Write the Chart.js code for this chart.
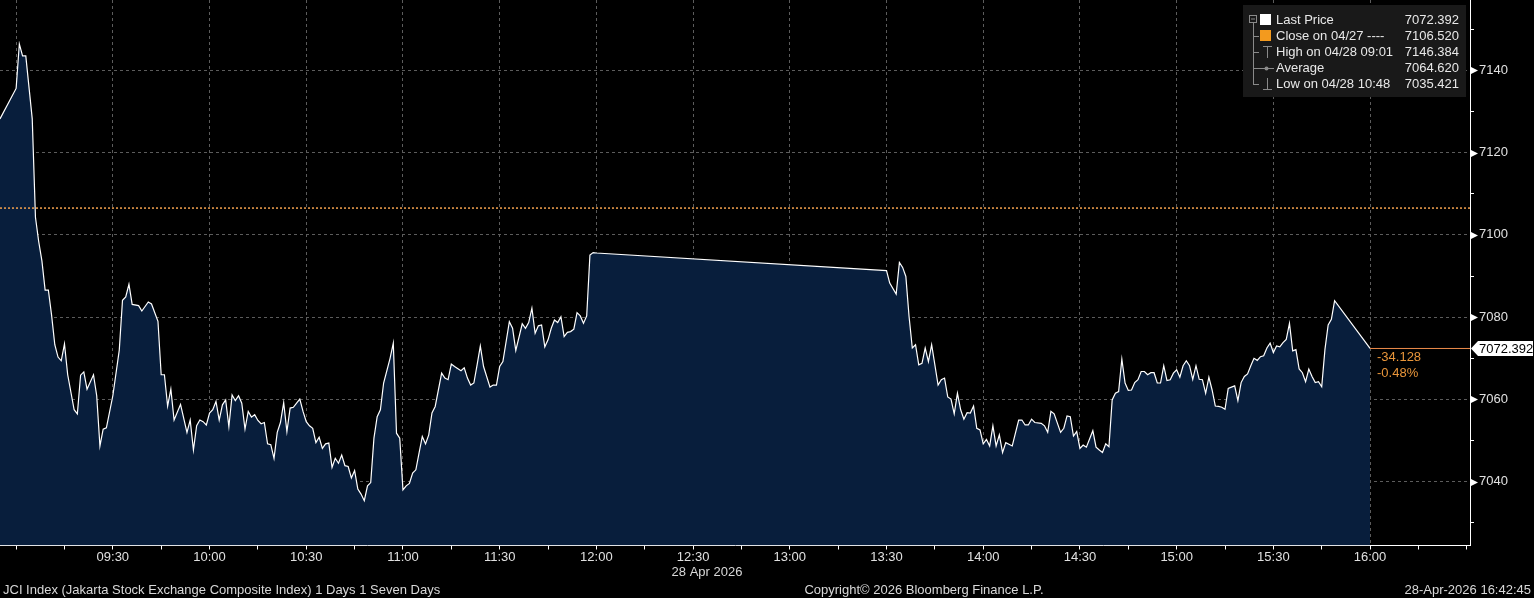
<!DOCTYPE html>
<html>
<head>
<meta charset="utf-8">
<script src="https://cdn.jsdelivr.net/npm/chart.js@4.4.1/dist/chart.umd.min.js"></script>
<style>
html,body{margin:0;padding:0;background:#000;overflow:hidden}
canvas{display:block}
</style>
</head>
<body>
<canvas id="chart" width="1534" height="598"></canvas>
<script>
// JCI intraday, 28 Apr 2026 - minute stamps and prices
const morningTimes = [
  '08:55','09:00','09:01','09:02','09:03','09:05','09:06','09:07','09:08','09:09',
  '09:10','09:11','09:12','09:13','09:14','09:15','09:16','09:18','09:19','09:20',
  '09:21','09:22','09:24','09:25','09:26','09:27','09:28','09:30','09:32','09:33',
  '09:34','09:35','09:36','09:38','09:39','09:41','09:42','09:44','09:45','09:46',
  '09:47','09:48','09:49','09:51','09:53','09:54','09:55','09:56','09:57','09:58',
  '09:59','10:00','10:01','10:02','10:03','10:04','10:05','10:06','10:07','10:08',
  '10:09','10:10','10:11','10:12','10:13','10:14','10:15','10:16','10:17','10:18',
  '10:19','10:20','10:21','10:22','10:23','10:24','10:25','10:26','10:27','10:28',
  '10:29','10:30','10:31','10:32','10:33','10:34','10:35','10:36','10:37','10:38',
  '10:39','10:40','10:41','10:42','10:43','10:44','10:45','10:46','10:47','10:48',
  '10:49','10:50','10:51','10:52','10:53','10:54','10:56','10:57','10:58','10:59',
  '11:00','11:01','11:02','11:03','11:04','11:05','11:06','11:07','11:08','11:09','11:10','11:12',
  '11:13','11:14','11:15','11:16','11:18','11:19','11:20','11:21','11:22','11:23',
  '11:24','11:25','11:27','11:28','11:29','11:30','11:31','11:33','11:34','11:35',
  '11:37','11:38','11:39','11:40','11:41','11:42','11:43','11:44','11:45','11:46',
  '11:47','11:48','11:49','11:50','11:51','11:52','11:53','11:54','11:55','11:56',
  '11:57','11:58','11:59','12:00'
]
const morningPrices = [
  7128.2,7135.6,7146.4,7143.5,7143.5,7128.2,7104.3,7098.4,7093.7,7086.6,
  7086.6,7080.5,7073.3,7070.3,7069.4,7073.5,7066.0,7057.5,7056.5,7065.9,
  7066.7,7062.5,7066.0,7060.9,7048.7,7052.8,7053.1,7060.9,7072.0,7084.1,
  7084.9,7088.0,7083.1,7082.8,7081.5,7083.7,7083.2,7079.0,7066.0,7066.0,
  7058.4,7062.5,7055.0,7058.8,7052.0,7055.0,7047.7,7053.6,7055.0,7054.6,
  7053.8,7056.7,7057.5,7059.5,7055.0,7058.7,7059.9,7053.4,7061.1,7059.7,
  7060.9,7059.1,7052.8,7057.1,7055.7,7056.3,7054.9,7054.1,7054.4,7049.2,
  7049.0,7045.7,7052.0,7054.4,7059.2,7052.2,7057.9,7058.1,7059.1,7060.1,
  7057.1,7054.6,7053.6,7053.0,7049.5,7050.8,7048.1,7049.2,7049.4,7043.5,
  7045.7,7044.5,7046.5,7043.9,7043.7,7040.9,7042.7,7038.2,7037.0,7035.4,
  7039.0,7039.8,7050.6,7055.8,7057.5,7064.0,7070.0,7073.7,7051.8,7050.6,
  7038.0,7039.0,7039.6,7042.1,7042.9,7047.0,7051.0,7049.2,7051.4,7056.7,7058.3,7066.4,
  7065.2,7064.8,7068.6,7068.0,7067.0,7067.7,7065.2,7063.5,7064.0,7068.4,
  7073.0,7068.0,7063.0,7063.5,7063.5,7068.0,7069.2,7078.9,7077.3,7071.9,
  7078.4,7077.3,7078.7,7082.2,7076.1,7077.9,7078.1,7072.8,7074.5,7077.3,
  7079.3,7078.7,7080.1,7075.3,7076.3,7076.5,7077.1,7081.1,7080.3,7078.5,
  7080.3,7095.1,7095.7,7095.6
]
const afternoonTimes = [
  '13:30','13:31','13:33','13:34','13:35','13:36','13:37','13:38','13:39','13:40',
  '13:41','13:42','13:43','13:44','13:46','13:47','13:48','13:49','13:50','13:51',
  '13:52','13:53','13:54','13:55','13:56','13:57','13:58','13:59','14:00','14:01',
  '14:02','14:03','14:04','14:05','14:06','14:07','14:09','14:11','14:12','14:13',
  '14:14','14:15','14:16','14:18','14:19','14:20','14:21','14:22','14:24','14:25',
  '14:26','14:27','14:28','14:29','14:30','14:31','14:32','14:34','14:35','14:36',
  '14:37','14:38','14:39','14:40','14:41','14:42','14:43','14:44','14:45','14:46',
  '14:47','14:48','14:49','14:50','14:51','14:52','14:53','14:54','14:55','14:56','14:57',
  '14:58','14:59','15:00','15:01','15:02','15:03','15:04','15:05','15:06','15:07',
  '15:08','15:09','15:10','15:11','15:12','15:13','15:14','15:15','15:16','15:17',
  '15:18','15:19','15:20','15:21','15:22','15:23','15:24','15:25','15:26','15:27',
  '15:28','15:29','15:30','15:31','15:32','15:33','15:34','15:35','15:36','15:37',
  '15:38','15:39','15:40','15:41','15:42','15:43','15:44','15:45','15:46','15:47',
  '15:48','15:49','16:00'
]
const afternoonPrices = [
  7091.3,7088.3,7085.6,7093.3,7092.1,7089.9,7080.1,7072.5,7073.3,7068.4,
  7068.8,7072.5,7069.2,7073.3,7063.5,7064.8,7065.2,7060.6,7060.1,7056.5,
  7061.5,7057.5,7055.2,7056.8,7056.7,7058.4,7053.0,7052.6,7049.2,7050.3,
  7048.7,7053.6,7048.7,7051.4,7047.1,7049.5,7048.7,7055.0,7055.0,7053.8,
  7053.8,7055.2,7054.4,7054.2,7053.6,7052.0,7057.1,7056.5,7052.0,7053.0,
  7056.0,7055.8,7051.1,7052.2,7048.1,7048.9,7048.4,7052.4,7048.4,7047.7,
  7047.1,7049.2,7048.5,7059.9,7061.5,7061.9,7069.8,7064.0,7062.2,7062.3,
  7064.1,7064.8,7066.8,7066.8,7066.0,7066.5,7066.5,7064.0,7064.0,7068.2,7064.6,
  7064.8,7066.4,7067.2,7065.4,7068.2,7069.4,7068.2,7064.9,7068.2,7064.9,
  7064.8,7061.5,7065.4,7062.3,7058.4,7058.3,7058.1,7057.6,7062.7,7063.0,
  7063.3,7059.7,7064.1,7065.6,7066.2,7068.2,7070.0,7069.5,7070.4,7070.6,
  7072.5,7073.7,7071.4,7073.0,7072.8,7073.8,7074.6,7078.5,7071.8,7072.1,
  7067.4,7066.5,7064.3,7067.4,7065.6,7064.1,7064.3,7063.1,7072.1,7078.1,
  7079.5,7084.0,7072.392
]

const prevClose = 7106.520
const highPrice = 7146.384
const avgPrice = 7064.620
const lowPrice = 7035.421
const lastPrice = afternoonPrices[afternoonPrices.length - 1]

// axis ticks
const xTickTimes = ['09:00','09:15','09:30','09:45','10:00','10:15','10:30','10:45','11:00','11:15',
  '11:30','11:45','12:00','12:15','12:30','12:45','13:00','13:15','13:30','13:45','14:00','14:15',
  '14:30','14:45','15:00','15:15','15:30','15:45','16:00','16:15','16:30']
const xLabelTimes = ['09:30','10:00','10:30','11:00','11:30','12:00','12:30','13:00','13:30','14:00',
  '14:30','15:00','15:30','16:00']
const yTicks = [7030,7040,7050,7060,7070,7080,7090,7100,7110,7120,7130,7140,7150]
const yLabels = [7040,7060,7080,7100,7120,7140]

const xMin = -5, xMax = 451      // minutes from 09:00
const yMin = 7024.5, yMax = 7157.1

const FONT = '"Liberation Sans", Arial, sans-serif'
const GRID = '#5c5c5c'

function toMin(t){
  const [h, m] = t.split(':').map(Number)
  return h * 60 + m - 540
}
function fmt(v){
  const t = v + 540
  return String(Math.floor(t / 60)).padStart(2, '0') + ':' + String(t % 60).padStart(2, '0')
}

const priceData = morningTimes.map((t, i) => ({x: toMin(t), y: morningPrices[i]}))
  .concat(afternoonTimes.map((t, i) => ({x: toMin(t), y: afternoonPrices[i]})))
const lastX = toMin(afternoonTimes[afternoonTimes.length - 1])

//quita el relleno que chart.js deja para las etiquetas
function noPad(s){
  s.paddingTop = 0
  s.paddingBottom = 0
  s.paddingLeft = 0
  s.paddingRight = 0
}

//dibuja leyenda, etiquetas y pie
const decor = {
  id: 'decor',
  afterDraw(chart){
    const ctx = chart.ctx
    const ys = chart.scales.y
    const ar = chart.chartArea.right
    ctx.save()
    ctx.font = '13px ' + FONT
    ctx.textBaseline = 'middle'

    // flechitas del eje derecho
    ctx.fillStyle = '#ffffff'
    yLabels.forEach(v => {
      const py = Math.round(ys.getPixelForValue(v)) + 0.5
      ctx.beginPath()
      ctx.moveTo(ar + 1, py - 3.5)
      ctx.lineTo(ar + 8, py)
      ctx.lineTo(ar + 1, py + 3.5)
      ctx.closePath()
      ctx.fill()
    })

    // etiqueta del ultimo precio
    const ly = ys.getPixelForValue(lastPrice)
    ctx.beginPath()
    ctx.moveTo(ar + 1, ly)
    ctx.lineTo(ar + 8, ly - 7.5)
    ctx.lineTo(1533, ly - 7.5)
    ctx.lineTo(1533, ly + 7.5)
    ctx.lineTo(ar + 8, ly + 7.5)
    ctx.closePath()
    ctx.fill()
    ctx.fillStyle = '#000000'
    ctx.textAlign = 'left'
    ctx.fillText(lastPrice.toFixed(3), ar + 9, ly + 0.5)

    // cambio vs cierre
    const chg = lastPrice - prevClose
    ctx.fillStyle = '#e8953a'
    ctx.fillText(chg.toFixed(3), 1377, ly + 9)
    ctx.fillText((chg / prevClose * 100).toFixed(2) + '%', 1377, ly + 25)

    // leyenda
    ctx.fillStyle = '#191919'
    ctx.fillRect(1243, 5, 223, 92)
    const rows = [20, 36, 52, 68, 84]
    ctx.strokeStyle = '#8a8a8a'
    ctx.lineWidth = 1
    ctx.strokeRect(1249.5, 15.5, 7, 7)
    ctx.beginPath()
    ctx.moveTo(1251, 19); ctx.lineTo(1255, 19)
    ctx.moveTo(1253.5, 23); ctx.lineTo(1253.5, rows[4])
    rows.slice(1).forEach(r => { ctx.moveTo(1253, r + 0.5); ctx.lineTo(1259, r + 0.5) })
    // high icon
    ctx.moveTo(1263, 46.5); ctx.lineTo(1272, 46.5)
    ctx.moveTo(1267.5, 46); ctx.lineTo(1267.5, 58)
    // average icon
    ctx.moveTo(1259, 68.5); ctx.lineTo(1274, 68.5)
    // low icon
    ctx.moveTo(1267.5, 78); ctx.lineTo(1267.5, 90)
    ctx.moveTo(1263, 89.5); ctx.lineTo(1272, 89.5)
    ctx.stroke()
    ctx.fillStyle = '#8a8a8a'
    ctx.beginPath(); ctx.arc(1266.5, 68.5, 2, 0, Math.PI * 2); ctx.fill()
    ctx.fillStyle = '#ffffff'
    ctx.fillRect(1260, 14, 11, 11)
    ctx.fillStyle = '#f39a1e'
    ctx.fillRect(1260, 30, 11, 11)

    const names = ['Last Price', 'Close on 04/27 ----', 'High on 04/28 09:01', 'Average', 'Low on 04/28 10:48']
    const vals = [lastPrice, prevClose, highPrice, avgPrice, lowPrice]
    ctx.fillStyle = '#e8e8e8'
    names.forEach((n, i) => {
      ctx.textAlign = 'left'
      ctx.fillText(n, 1276, rows[i])
      ctx.textAlign = 'right'
      ctx.fillText(vals[i].toFixed(3), 1459, rows[i])
    })

    // pie de pagina
    ctx.fillStyle = '#d8d8d8'
    ctx.textAlign = 'center'
    ctx.fillText('28 Apr 2026', 707, 572)
    ctx.fillText('Copyright\u00a9 2026 Bloomberg Finance L.P.', 924, 590)
    ctx.textAlign = 'left'
    ctx.fillText('JCI Index (Jakarta Stock Exchange Composite Index) 1 Days 1 Seven Days', 3, 590)
    ctx.textAlign = 'right'
    ctx.fillText('28-Apr-2026 16:42:45', 1531, 590)
    ctx.restore()
  }
}

const chart = new Chart(document.getElementById('chart').getContext('2d'), {
  type: 'line',
  data: {
    datasets: [
      {
        label: 'Last Price',
        data: priceData,
        borderColor: '#ffffff',
        borderWidth: 1.2,
        backgroundColor: '#081e3c',
        fill: 'start',
        pointRadius: 0,
        tension: 0,
        order: 2
      },
      {
        label: 'Close',
        data: [{x: xMin, y: prevClose}, {x: xMax, y: prevClose}],
        borderColor: '#f2a04e',
        borderWidth: 1.5,
        borderDash: [2, 2],
        pointRadius: 0,
        fill: false,
        order: 1
      },
      {
        label: 'Last',
        data: [{x: lastX, y: lastPrice}, {x: xMax, y: lastPrice}],
        borderColor: '#ec8b4b',
        borderWidth: 1,
        pointRadius: 0,
        fill: false,
        order: 1
      }
    ]
  },
  options: {
    responsive: false,
    animation: false,
    layout: {padding: 0},
    plugins: {legend: {display: false}, tooltip: {enabled: false}},
    scales: {
      x: {
        type: 'linear',
        position: 'bottom',
        min: xMin,
        max: xMax,
        z: 1,
        afterBuildTicks: s => { s.ticks = xTickTimes.map(t => ({value: toMin(t)})) },
        afterFit: s => { s.height = 52.5; noPad(s) },
        ticks: {
          autoSkip: false,
          maxRotation: 0,
          padding: 0,
          color: '#e0e0e0',
          font: {family: FONT, size: 13},
          callback: v => xLabelTimes.includes(fmt(v)) ? fmt(v) : ''
        },
        grid: {
          color: c => (c.tick && c.tick.value % 30 === 0 && c.tick.value < 450) ? GRID : 'rgba(0,0,0,0)',
          tickColor: '#ffffff',
          tickLength: 4,
          lineWidth: 1
        },
        border: {display: true, color: '#ffffff', width: 1, dash: [3, 3]}
      },
      y: {
        type: 'linear',
        position: 'right',
        min: yMin,
        max: yMax,
        z: 1,
        afterBuildTicks: s => { s.ticks = yTicks.map(v => ({value: v})) },
        afterFit: s => { s.width = 64; noPad(s) },
        ticks: {
          autoSkip: false,
          padding: 5,
          color: '#e0e0e0',
          font: {family: FONT, size: 13},
          callback: v => yLabels.includes(v) ? String(v) : ''
        },
        grid: {
          color: c => (c.tick && yLabels.includes(c.tick.value)) ? GRID : 'rgba(0,0,0,0)',
          tickColor: c => (c.tick && yLabels.includes(c.tick.value)) ? 'rgba(0,0,0,0)' : '#ffffff',
          tickLength: 4,
          lineWidth: 1
        },
        border: {display: true, color: '#ffffff', width: 1, dash: [3, 3]}
      }
    }
  },
  plugins: [decor]
})
</script>
</body>
</html>
